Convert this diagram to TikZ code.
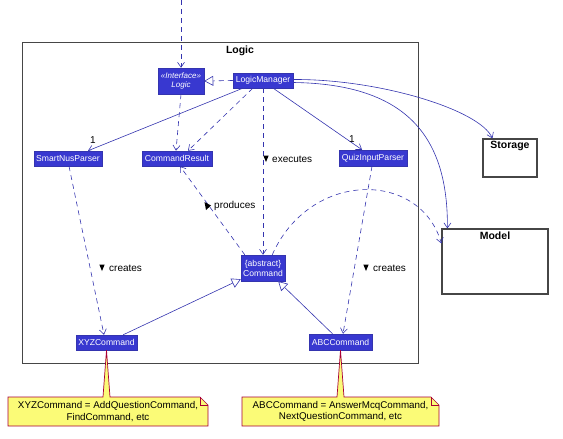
\documentclass[tikz,border=0pt]{standalone}
\usepackage{fontspec}
\setmainfont{Liberation Sans}
\usetikzlibrary{arrows.meta,calc}
\definecolor{nblue}{RGB}{56,56,208}
\definecolor{lblue}{RGB}{52,52,175}
\definecolor{noteyel}{RGB}{251,251,119}
\definecolor{notered}{RGB}{168,0,54}
\definecolor{frameg}{RGB}{70,70,70}
\begin{document}
\begin{tikzpicture}[x=1pt,y=-1pt,
  cls/.style={draw=lblue, fill=nblue, text=white, font=\fontsize{8.6}{10}\selectfont, inner sep=0pt, line width=0.5pt, align=center},
  dep/.style={draw=lblue, dash pattern=on 5pt off 4pt, line width=0.6pt, -{Straight Barb[length=5pt,width=7pt]}},
  assoc/.style={draw=lblue, line width=0.6pt, -{Straight Barb[length=5pt,width=7pt]}},
  gen/.style={draw=lblue, line width=0.6pt, -{Triangle[open,length=9pt,width=10pt,fill=white]}},
  real/.style={draw=lblue, dash pattern=on 5pt off 4pt, line width=0.6pt, -{Triangle[open,length=9pt,width=10pt,fill=white]}},
  lbl/.style={font=\fontsize{10}{11}\selectfont, inner sep=0pt, anchor=west},
  comp/.style={draw=frameg, line width=1.2pt, fill=white, inner sep=0pt},
  ctitle/.style={font=\fontsize{10.5}{11}\selectfont\bfseries, inner sep=0pt},
  note/.style={draw=notered, fill=noteyel, line width=0.7pt},
  notetext/.style={font=\fontsize{9.8}{11.5}\selectfont, align=center, inner sep=0pt},
  tri/.style={fill=black}
]
\useasboundingbox (0,0) rectangle (563,439);
% package frame
\draw[draw=frameg, line width=1pt] (22,42) rectangle (418,363);
\node[ctitle] (logictitle) at (240,51) {Logic};

% classes
\node[cls, minimum width=46, minimum height=26, font=\fontsize{8}{9.5}\itshape] (logicI) at (181,81) {«Interface»\\Logic};
\node[cls, minimum width=60, minimum height=15] (lm) at (263,80.5) {LogicManager};
\node[cls, minimum width=68, minimum height=15] (snp) at (68,158.5) {SmartNusParser};
\node[cls, minimum width=70, minimum height=15] (cr) at (177,158.5) {CommandResult};
\node[cls, minimum width=68, minimum height=16] (qip) at (373,158) {QuizInputParser};
\node[cls, minimum width=44, minimum height=26] (cmd) at (263,268) {\{abstract\}\\Command};
\node[cls, minimum width=61, minimum height=15] (xyz) at (106.5,342.5) {XYZCommand};
\node[cls, minimum width=63, minimum height=16] (abc) at (340.5,342) {ABCCommand};

% components
\node[comp, minimum width=54, minimum height=38] (storage) at (510,158) {};
\node[ctitle, below] (storaget) at ($(storage.north)+(0,3)$) {Storage};
\node[comp, minimum width=106, minimum height=65] (model) at (495,261.5) {};
\node[ctitle, below] (modelt) at ($(model.north)+(0,3)$) {Model};

% top incoming
\coordinate (topin) at (181,0);
\draw[dep] (topin) -- (logicI.north);

% realization
\draw[real] (lm.west) -- (logicI.east);

% associations
\draw[assoc] ($(lm.south west)+(10,0)$) -- ($(snp.north)+(20,0)$);
\node[font=\fontsize{10}{11}\selectfont, inner sep=0pt] (one1) at (93,140) {1};
\draw[assoc] ($(lm.south east)+(-20,0)$) -- ($(qip.north)+(-11,0)$);
\node[font=\fontsize{10}{11}\selectfont, inner sep=0pt] (one2) at (352,139) {1};

% dependencies to CommandResult
\draw[dep] (logicI.south) -- ($(cr.north)+(-1,0)$);
\draw[dep] ($(lm.south west)+(20,0)$) -- ($(cr.north)+(11,0)$);

% executes
\draw[dep] (lm.south) -- (cmd.north);
\fill[tri] (263.3,155.5) -- (268.7,155.5) -- (266,162) -- cycle;
\node[lbl] (lexec) at (272,159) {executes};

% curves to Storage and Model
\draw[assoc] ($(lm.east)+(0,-1)$) .. controls (380,79) and (480,110) .. ($(storage.north west)+(10,0)$);
\draw[assoc] ($(lm.east)+(0,2)$) .. controls (410,84) and (448,140) .. ($(model.north west)+(6,0)$);

% Command to Model
\draw[dep] ($(cmd.north east)+(-13,0)$) .. controls (310,170) and (420,170) .. ($(model.north west)+(0,15)$);

% produces
\draw[dep] ($(cmd.north west)+(4,0)$) -- ($(cr.south)+(3,0)$);
\fill[tri] (204.5,202) -- (211,205.5) -- (206,210) -- cycle;
\node[lbl] (lprod) at (214,206) {produces};

% creates
\draw[dep] ($(snp.south)+(1,0)$) -- ($(xyz.north)+(-2.5,0)$);
\fill[tri] (99.3,264.5) -- (104.7,264.5) -- (102,271) -- cycle;
\node[lbl] (lcr1) at (109,268) {creates};
\draw[dep] ($(qip.south)+(-1,0)$) -- ($(abc.north)+(2.5,0)$);
\fill[tri] (363.3,264.5) -- (368.7,264.5) -- (366,271) -- cycle;
\node[lbl] (lcr2) at (373,268) {creates};

% generalizations
\draw[gen] ($(xyz.north east)+(-14,0)$) -- ($(cmd.south west)+(0,-2)$);
\draw[gen] ($(abc.north)+(-8,0)$) -- ($(cmd.south east)+(-7,0)$);

% notes
\draw[note] (8,397) -- (103,397) -- (xyz.south) -- (110,397) -- (200,397) -- (208,405) -- (208,426) -- (8,426) -- cycle;
\draw[notered, line width=0.7pt] (200,397) -- (200,405) -- (208,405);
\node[notetext] (n1) at (108,411.5) {XYZCommand = AddQuestionCommand,\\FindCommand, etc};

\draw[note] (242,397) -- (337,397) -- (abc.south) -- (344,397) -- (431,397) -- (439,405) -- (439,426) -- (242,426) -- cycle;
\draw[notered, line width=0.7pt] (431,397) -- (431,405) -- (439,405);
\node[notetext] (n2) at (340.5,411.5) {ABCCommand = AnswerMcqCommand,\\NextQuestionCommand, etc};
\end{tikzpicture}
\end{document}
